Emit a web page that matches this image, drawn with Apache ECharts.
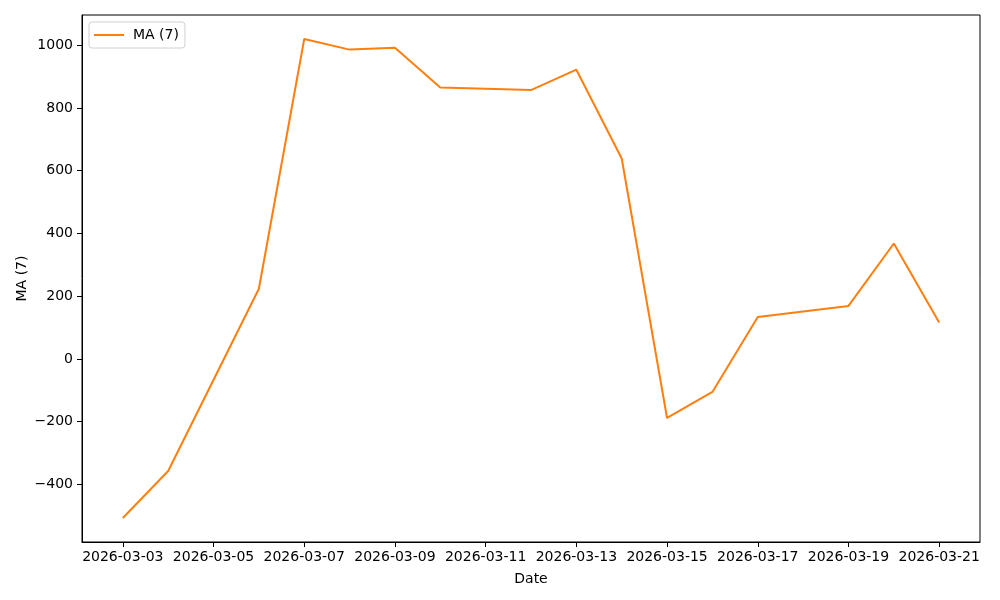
<!DOCTYPE html>
<html>
<head>
<meta charset="utf-8">
<script src="https://cdn.jsdelivr.net/npm/echarts@6/dist/echarts.min.js"></script>
<style>html,body{margin:0;padding:0;background:#fff}#c{width:1000px;height:600px}</style>
</head>
<body>
<div id="c"></div>
<script>
const dates = ['2026-03-03','2026-03-04','2026-03-06','2026-03-07','2026-03-08','2026-03-09','2026-03-10','2026-03-12','2026-03-13','2026-03-14','2026-03-15','2026-03-16','2026-03-17','2026-03-19','2026-03-20','2026-03-21'];
const maValues = [-507, -357, 224, 1020, 986, 992, 865, 857, 922, 639, -188, -105, 134, 169, 368, 116];
const xTickDates = ['2026-03-03','2026-03-05','2026-03-07','2026-03-09','2026-03-11','2026-03-13','2026-03-15','2026-03-17','2026-03-19','2026-03-21'];
const yTicks = [-400, -200, 0, 200, 400, 600, 800, 1000];
const seriesName = 'MA (7)';

function ts(s){ const p = s.split('-').map(Number); return Date.UTC(p[0], p[1]-1, p[2]); }
function fmt(v){ const d = new Date(v); const p = n => String(n).padStart(2,'0'); return d.getUTCFullYear()+'-'+p(d.getUTCMonth()+1)+'-'+p(d.getUTCDate()); }
const xs = dates.map(ts);
const xMinD = xs[0], xMaxD = xs[xs.length-1];
const xPad = (xMaxD - xMinD) * 0.05;
const yMinD = Math.min(...maValues), yMaxD = Math.max(...maValues);
const yPad = (yMaxD - yMinD) * 0.05;
const font = 'DejaVu Sans';
const fs = 14;

const chart = echarts.init(document.getElementById('c'), null, {renderer:'canvas'});
chart.setOption({
  animation: false,
  backgroundColor: '#fff',
  textStyle: {fontFamily: font},
  grid: {left: 82, right: 20, top: 15, bottom: 58, show: true, borderColor: '#000', borderWidth: 1, containLabel: false},
  legend: {
    left: 89, top: 22, orient: 'vertical',
    data: [{name: seriesName, icon: 'path://M0,0 L30,0 L30,2 L0,2 Z'}],
    itemWidth: 30, itemHeight: 2, itemGap: 4,
    padding: [6, 6, 6, 5],
    borderColor: '#d0d0d0', borderWidth: 1, borderRadius: 3,
    textStyle: {fontFamily: font, fontSize: fs, color: '#000', padding: [0,0,0,4]}
  },
  xAxis: {
    type: 'value',
    min: xMinD - xPad, max: xMaxD + xPad,
    name: 'Date', nameLocation: 'middle', nameGap: 30,
    nameTextStyle: {fontFamily: font, fontSize: fs, color: '#000'},
    axisLine: {show: true, onZero: false, lineStyle: {color: '#000', width: 1}},
    axisTick: {show: true, length: 5, lineStyle: {color: '#000'}, customValues: xTickDates.map(ts)},
    axisLabel: {fontFamily: font, fontSize: fs, color: '#000', margin: 8, customValues: xTickDates.map(ts), formatter: v => fmt(v)},
    splitLine: {show: false}
  },
  yAxis: {
    type: 'value',
    min: yMinD - yPad, max: yMaxD + yPad,
    name: seriesName, nameLocation: 'middle', nameGap: 53, nameMoveOverlap: false,
    nameTextStyle: {fontFamily: font, fontSize: fs, color: '#000'},
    axisLine: {show: true, onZero: false, lineStyle: {color: '#000', width: 1}},
    axisTick: {show: true, length: 5, lineStyle: {color: '#000'}, customValues: yTicks},
    axisLabel: {fontFamily: font, fontSize: fs, color: '#000', margin: 9, customValues: yTicks, formatter: v => String(v).replace('-', '\u2212')},
    splitLine: {show: false}
  },
  series: [{
    name: seriesName, type: 'line',
    data: xs.map((x, i) => [x, maValues[i]]),
    showSymbol: false, symbol: 'none',
    lineStyle: {color: '#ff7f0e', width: 2},
    itemStyle: {color: '#ff7f0e'}
  }]
});
</script>
</body>
</html>
